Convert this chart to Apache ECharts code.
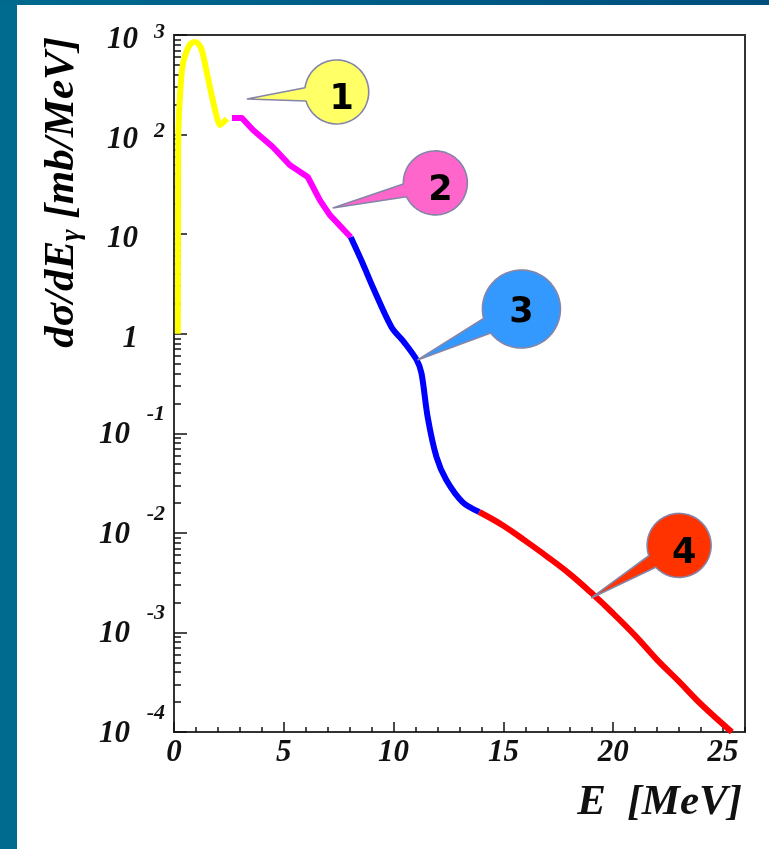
<!DOCTYPE html>
<html>
<head>
<meta charset="utf-8">
<script src="https://cdn.jsdelivr.net/npm/echarts@6/dist/echarts.min.js"></script>
<style>
  html, body { margin: 0; padding: 0; background: #ffffff; }
  #chart { width: 769px; height: 849px; }
</style>
</head>
<body>
<div id="chart"></div>
<script>
// Photon spectrum dσ/dEγ vs E, drawn as four coloured regions (E in MeV, value in mb/MeV)
const region1E = [0.175, 0.18, 0.19, 0.23, 0.32, 0.41, 0.59, 0.75, 0.95, 1.12, 1.27, 1.50, 1.73, 1.95, 2.09, 2.41];
const region1V = [1.0, 10, 80, 165, 350, 520, 700, 815, 850, 810, 700, 415, 240, 150, 125, 144];

const region2E = [2.64, 3.09, 3.60, 4.50, 5.27, 6.09, 6.64, 7.09, 8.05];
const region2V = [147, 147, 111, 75, 49.5, 37.5, 22, 15.6, 9.3];

const region3E = [8.05, 8.59, 9.05, 9.90, 10.50, 11.05, 11.27, 11.55, 11.95, 12.40, 13.14, 13.90];
const region3V = [9.3, 5.1, 2.95, 1.17, 0.81, 0.546, 0.40, 0.146, 0.058, 0.034, 0.0204, 0.0162];

const region4E = [13.9, 15, 16, 17, 18, 19, 20, 21, 22, 23, 24, 25.4];
const region4V = [0.0162, 0.0118, 0.0083, 0.00575, 0.0039, 0.0025, 0.00155, 0.00093, 0.00053, 0.00032, 0.00019, 0.0001];

// Numbered callouts: where each pointer ends and where its bubble sits (data units)
const calloutLabels = ['1', '2', '3', '4'];
const calloutTipE = [3.32, 7.23, 11.09, 19.0];
const calloutTipV = [228, 18.3, 0.546, 0.00222];
const calloutBubbleE = [7.41, 11.9, 15.82, 23.0];
const calloutBubbleV = [268, 32.7, 1.77, 0.00748];

// Axis tick labels
const xTickLabels = [0, 5, 10, 15, 20, 25];
const yTickLabels = [1e-4, 1e-3, 1e-2, 1e-1, 1, 10, 100, 1000];

// ---- styling ----
const lineColors = ['#ffff00', '#ff00ff', '#0000ff', '#ff0000'];
const lineSmooth = [0.25, 0, 0.3, 0.4];
const bubbleFills = ['#ffff66', '#ff66cc', '#3399ff', '#ff3300'];
const bubbleRadius = [32, 32, 39, 32];
const bubbleTextShift = [[5, 8], [5, 8], [0, 4], [5, 8]];
const serif = '"Liberation Serif", "Times New Roman", serif';
const axisColor = '#333333';

const xMinor = [];
for (let e = 1; e <= 26; e++) if (e % 5 !== 0) xMinor.push(e);
const yMinor = [];
for (let d = -4; d <= 2; d++) for (let m = 2; m <= 9; m++) yMinor.push(m * Math.pow(10, d));

function pairs(xs, ys) { return xs.map((x, i) => [x, ys[i]]); }
function decade(v) { return Math.round(Math.log10(v)); }

// mantissa part of each decade label ("10" or "1")
function yBaseLabel(v) {
  const p = decade(v);
  if (p === 0) return '{bp|1}';
  if (p >= 1) return '{bp|10}';
  return '{bn|10}';
}
// raised exponent part of each decade label
function yExpLabel(v) {
  const p = decade(v);
  if (p >= 2) return '{p|' + p + '}';
  if (p < 0) return '{n|' + p + '}';
  return '';
}

const baseFont = { fontFamily: serif, fontStyle: 'italic', fontWeight: 'bold', color: '#111' };

const chart = echarts.init(document.getElementById('chart'), null, { renderer: 'canvas' });

const lineSeries = [
  pairs(region1E, region1V),
  pairs(region2E, region2V),
  pairs(region3E, region3V),
  pairs(region4E, region4V)
].map((d, i) => ({
  type: 'line',
  data: d,
  showSymbol: false,
  silent: true,
  smooth: lineSmooth[i],
  lineStyle: { color: lineColors[i], width: 6, join: 'round' },
  z: 3
}));

const calloutData = calloutLabels.map((_, i) => [calloutTipE[i], calloutTipV[i], calloutBubbleE[i], calloutBubbleV[i]]);

const calloutSeries = {
  type: 'custom',
  data: calloutData,
  encode: { x: [0, 2], y: [1, 3] },
  clip: false,
  silent: true,
  z: 5,
  renderItem(params, api) {
    const i = params.dataIndex;
    const tip = api.coord([api.value(0), api.value(1)]);
    const c = api.coord([api.value(2), api.value(3)]);
    const r = bubbleRadius[i];
    const a = Math.atan2(tip[1] - c[1], tip[0] - c[0]);
    const d = 12 * Math.PI / 180;
    const pts = [];
    const n = 72;
    for (let k = 0; k <= n; k++) {
      const t = a + d + (2 * Math.PI - 2 * d) * k / n;
      pts.push([c[0] + r * Math.cos(t), c[1] + r * Math.sin(t)]);
    }
    pts.push(tip);
    return {
      type: 'group',
      children: [
        {
          type: 'polygon',
          shape: { points: pts },
          style: { fill: bubbleFills[i], stroke: '#8585a8', lineWidth: 1.6, lineJoin: 'bevel' }
        },
        {
          type: 'text',
          style: {
            text: calloutLabels[i],
            x: c[0] + bubbleTextShift[i][0],
            y: c[1] + bubbleTextShift[i][1],
            fill: '#000000',
            font: 'bold 35px "DejaVu Sans", sans-serif',
            align: 'center',
            verticalAlign: 'middle'
          }
        }
      ]
    };
  }
};

const logAxisBase = { type: 'log', logBase: 10, min: 1e-4, max: 1e3, position: 'left', splitLine: { show: false } };

chart.setOption({
  animation: false,
  backgroundColor: '#ffffff',
  grid: {
    left: 174, right: 24, top: 35, bottom: 117,
    show: true, borderColor: axisColor, borderWidth: 2, backgroundColor: 'transparent'
  },
  xAxis: [
    {
      type: 'value', min: 0, max: 26, position: 'bottom',
      axisLine: { show: true, lineStyle: { color: axisColor, width: 2 } },
      axisTick: { show: true, inside: true, length: 10, customValues: xTickLabels, lineStyle: { color: '#111', width: 1.5 } },
      axisLabel: {
        show: true, customValues: xTickLabels, margin: 5,
        fontFamily: serif, fontStyle: 'italic', fontWeight: 'bold', fontSize: 31, color: '#111'
      },
      splitLine: { show: false }
    },
    {
      type: 'value', min: 0, max: 26, position: 'bottom',
      axisLine: { show: false },
      axisTick: { show: true, inside: true, length: 5, customValues: xMinor, lineStyle: { color: '#111', width: 1.5 } },
      axisLabel: { show: false },
      splitLine: { show: false }
    }
  ],
  yAxis: [
    Object.assign({}, logAxisBase, {
      axisLine: { show: true, lineStyle: { color: axisColor, width: 2 } },
      axisTick: { show: true, inside: true, length: 13, customValues: yTickLabels, lineStyle: { color: '#111', width: 1.5 } },
      axisLabel: {
        show: true, customValues: yTickLabels, margin: 9,
        formatter: yBaseLabel,
        rich: {
          bp: Object.assign({ fontSize: 31, lineHeight: 31, padding: [10, 27, 0, 0] }, baseFont),
          bn: Object.assign({ fontSize: 31, lineHeight: 31, padding: [4, 35, 0, 0] }, baseFont)
        }
      }
    }),
    Object.assign({}, logAxisBase, {
      axisLine: { show: false },
      axisTick: { show: true, inside: true, length: 7, customValues: yMinor, lineStyle: { color: '#111', width: 1.5 } },
      axisLabel: { show: false }
    }),
    Object.assign({}, logAxisBase, {
      axisLine: { show: false },
      axisTick: { show: false },
      axisLabel: {
        show: true, customValues: yTickLabels, margin: 9,
        formatter: yExpLabel,
        rich: {
          p: Object.assign({ fontSize: 22, lineHeight: 22, padding: [0, 0, 6, 0] }, baseFont),
          n: Object.assign({ fontSize: 22, lineHeight: 22, padding: [0, 0, 38, 0] }, baseFont)
        }
      }
    })
  ],
  graphic: [
    { type: 'rect', z: -10, shape: { x: 0, y: 0, width: 17, height: 849 }, style: { fill: '#006b8f' } },
    {
      type: 'rect', z: -10, shape: { x: 0, y: 0, width: 769, height: 5 },
      style: {
        fill: new echarts.graphic.LinearGradient(0, 0, 1, 0, [
          { offset: 0, color: '#006a8e' }, { offset: 1, color: '#004e7c' }
        ])
      }
    },
    {
      type: 'text', x: 63, y: 37, rotation: Math.PI / 2, z: 10,
      style: {
        text: '{a|dσ/dE}{s|γ}{a| [mb/MeV]}',
        align: 'right', verticalAlign: 'middle',
        rich: {
          a: Object.assign({ fontSize: 43, lineHeight: 46, verticalAlign: 'top' }, baseFont),
          s: Object.assign({ fontSize: 28, lineHeight: 28, verticalAlign: 'bottom' }, baseFont)
        }
      }
    },
    {
      type: 'text', x: 742, y: 803, z: 10,
      style: {
        text: 'E  [MeV]', align: 'right', verticalAlign: 'middle',
        font: 'italic bold 43px "Liberation Serif", serif', fill: '#111'
      }
    }
  ],
  series: lineSeries.concat([calloutSeries])
});
</script>
</body>
</html>
